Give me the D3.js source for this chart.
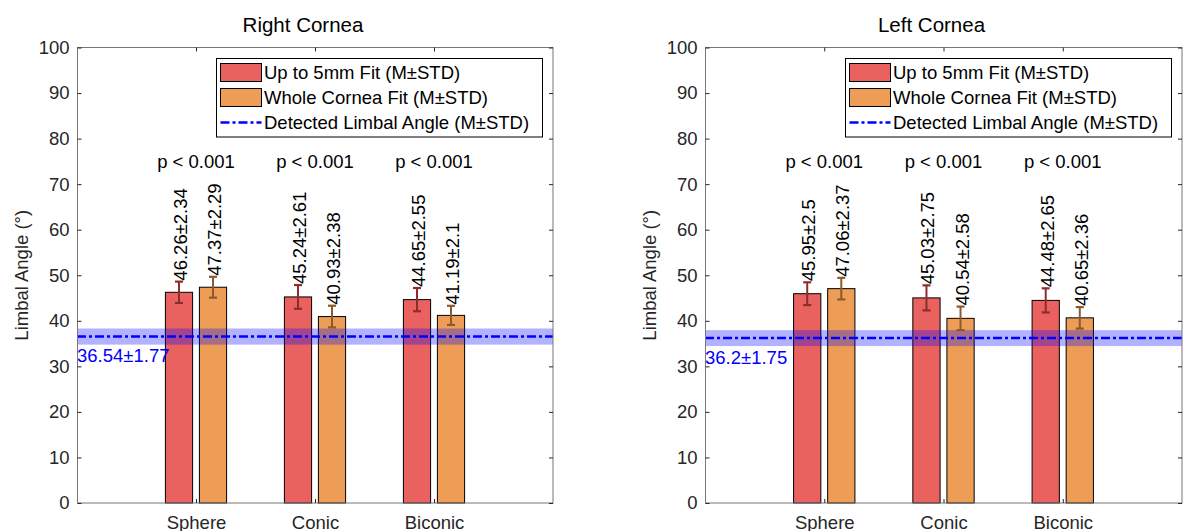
<!DOCTYPE html>
<html>
<head>
<meta charset="utf-8">
<script src="https://cdn.jsdelivr.net/npm/d3@7"></script>
<style>
  html, body { margin: 0; padding: 0; background: #fff; }
  svg { display: block; font-family: "Liberation Sans", Arial, Helvetica, sans-serif; }
</style>
</head>
<body>
<script>
// ---------------- data ----------------
const categories = ["Sphere", "Conic", "Biconic"];
const panelTitles = ["Right Cornea", "Left Cornea"];
const seriesNames = ["Up to 5mm Fit (M\u00b1STD)", "Whole Cornea Fit (M\u00b1STD)", "Detected Limbal Angle (M\u00b1STD)"];

// Right cornea
const rightUpTo5Mean = [46.26, 45.24, 44.65];
const rightUpTo5Std  = [2.34, 2.61, 2.55];
const rightWholeMean = [47.37, 40.93, 41.19];
const rightWholeStd  = [2.29, 2.38, 2.1];
// Left cornea
const leftUpTo5Mean = [45.95, 45.03, 44.48];
const leftUpTo5Std  = [2.5, 2.75, 2.65];
const leftWholeMean = [47.06, 40.54, 40.65];
const leftWholeStd  = [2.37, 2.58, 2.36];
// Detected limbal angle (right, left)
const limbalMean = [36.54, 36.2];
const limbalStd  = [1.77, 1.75];
// p-value labels per category
const pLabels = ["p < 0.001", "p < 0.001", "p < 0.001"];
const yTicks = [0, 10, 20, 30, 40, 50, 60, 70, 80, 90, 100];
const yLabel = "Limbal Angle (\u00b0)";

// ---------------- style ----------------
const W = 1186, H = 531;
const FS = 18.5;
const colUp5 = "rgb(233,98,96)";
const colWhole = "rgb(238,157,86)";
const errUp5 = "rgb(140,45,45)";
const errWhole = "rgb(140,90,45)";
const blue = "#0000ff";
const tickColor = "#262626";
const dash = "9,3,3,3";

const svg = d3.select("body").append("svg").attr("width", W).attr("height", H);
svg.append("rect").attr("width", W).attr("height", H).attr("fill", "#fff");

const panels = [
  { title: panelTitles[0], L: 77, R: 553, up5: rightUpTo5Mean, up5s: rightUpTo5Std, wh: rightWholeMean, whs: rightWholeStd, lm: limbalMean[0], ls: limbalStd[0] },
  { title: panelTitles[1], L: 705, R: 1182, up5: leftUpTo5Mean, up5s: leftUpTo5Std, wh: leftWholeMean, whs: leftWholeStd, lm: limbalMean[1], ls: limbalStd[1] }
];

const TOP = 47.5, BOT = 503;
const groupOffset = 0.142857, barW = 0.228571;

panels.forEach(p => {
  const x = d3.scaleLinear().domain([0, 4]).range([p.L, p.R]);
  const y = d3.scaleLinear().domain([0, 100]).range([BOT, TOP]);
  const g = svg.append("g");
  const bw = x(barW) - x(0);

  // bars
  const series = [
    { m: p.up5, s: p.up5s, off: -groupOffset, fill: colUp5, err: errUp5 },
    { m: p.wh, s: p.whs, off: groupOffset, fill: colWhole, err: errWhole }
  ];
  series.forEach(se => {
    se.m.forEach((v, i) => {
      const cx = x(i + 1 + se.off);
      g.append("rect")
        .attr("x", cx - bw / 2).attr("y", y(v))
        .attr("width", bw).attr("height", y(0) - y(v))
        .attr("fill", se.fill).attr("stroke", "#000").attr("stroke-width", 1);
    });
  });

  // limbal band + line
  g.append("rect")
    .attr("x", x(0)).attr("width", x(4) - x(0))
    .attr("y", y(p.lm + p.ls)).attr("height", y(p.lm - p.ls) - y(p.lm + p.ls))
    .attr("fill", blue).attr("fill-opacity", 0.3);
  g.append("line")
    .attr("x1", x(0)).attr("x2", x(4)).attr("y1", y(p.lm)).attr("y2", y(p.lm))
    .attr("stroke", blue).attr("stroke-width", 2.5).attr("stroke-dasharray", dash);
  g.append("text")
    .attr("x", x(0)).attr("y", y(p.lm - p.ls) + 17.5)
    .attr("fill", blue).attr("font-size", FS)
    .text(p.lm + "\u00b1" + p.ls);

  // error bars + rotated labels
  series.forEach(se => {
    se.m.forEach((v, i) => {
      const cx = x(i + 1 + se.off);
      const hi = y(v + se.s[i]), lo = y(v - se.s[i]);
      g.append("line").attr("x1", cx).attr("x2", cx).attr("y1", hi).attr("y2", lo)
        .attr("stroke", se.err).attr("stroke-width", 2);
      [hi, lo].forEach(yy => g.append("line").attr("x1", cx - 4).attr("x2", cx + 4)
        .attr("y1", yy).attr("y2", yy).attr("stroke", se.err).attr("stroke-width", 2.2));
      g.append("text")
        .attr("transform", `translate(${cx + 1.5},${hi - 1}) rotate(-90)`)
        .attr("text-anchor", "start").attr("dominant-baseline", "central")
        .attr("font-size", FS).attr("fill", "#000")
        .text(v + "\u00b1" + se.s[i]);
    });
  });

  // p-values
  pLabels.forEach((t, i) => {
    g.append("text").attr("x", x(i + 1)).attr("y", y(75))
      .attr("text-anchor", "middle").attr("dominant-baseline", "central")
      .attr("font-size", FS).attr("fill", "#000").text(t);
  });

  // axes box
  g.append("rect").attr("x", p.L + 0.5).attr("y", TOP).attr("width", p.R - p.L - 0.5).attr("height", BOT - TOP)
    .attr("fill", "none").attr("stroke", "#777").attr("stroke-width", 1);

  const styleAxis = sel => {
    sel.select(".domain").remove();
    sel.selectAll(".tick line").attr("stroke", tickColor);
    sel.selectAll("text").attr("fill", tickColor).attr("font-size", FS)
      .attr("font-family", "Liberation Sans, Arial, sans-serif");
  };
  g.append("g").attr("transform", `translate(${p.L + 0.5},0)`)
    .call(d3.axisLeft(y).tickValues(yTicks).tickSizeInner(-4).tickSizeOuter(0).tickPadding(8))
    .call(styleAxis);
  g.append("g").attr("transform", `translate(${p.R},0)`)
    .call(d3.axisRight(y).tickValues(yTicks).tickSizeInner(-4).tickSizeOuter(0).tickFormat(""))
    .call(styleAxis);
  g.append("g").attr("transform", `translate(0,${TOP})`)
    .call(d3.axisTop(x).tickValues([1, 2, 3]).tickSizeInner(-4).tickSizeOuter(0).tickFormat(""))
    .call(styleAxis);
  g.append("g").attr("transform", `translate(0,${BOT})`)
    .call(d3.axisBottom(x).tickValues([1, 2, 3]).tickSizeInner(-4).tickSizeOuter(0).tickPadding(13)
      .tickFormat((d, i) => categories[i]))
    .call(styleAxis);

  // y label
  g.append("text")
    .attr("transform", `translate(${p.L - 49},${(TOP + BOT) / 2}) rotate(-90)`)
    .attr("text-anchor", "middle").attr("font-size", FS).attr("fill", tickColor)
    .text(yLabel);

  // title
  g.append("text").attr("x", (p.L + p.R) / 2 - 12).attr("y", 32)
    .attr("text-anchor", "middle").attr("font-size", 20.5).attr("fill", "#000")
    .text(p.title);

  // legend
  const legW = 326, legR = p.R - 11, legL = legR - legW, legT = 58, legH = 78.5;
  const lg = g.append("g");
  lg.append("rect").attr("x", legL + 0.5).attr("y", legT + 0.5).attr("width", legW).attr("height", legH)
    .attr("fill", "#fff").attr("stroke", "#000").attr("stroke-width", 1);
  const rows = [72, 97, 122].map(v => v + 0.5);
  [colUp5, colWhole].forEach((c, k) => {
    lg.append("rect").attr("x", legL + 4.5).attr("y", rows[k] - 9).attr("width", 41).attr("height", 18)
      .attr("fill", c).attr("stroke", "#000").attr("stroke-width", 1);
  });
  lg.append("line").attr("x1", legL + 4.5).attr("x2", legL + 45.5).attr("y1", rows[2]).attr("y2", rows[2])
    .attr("stroke", blue).attr("stroke-width", 2.5).attr("stroke-dasharray", dash);
  seriesNames.forEach((t, k) => {
    lg.append("text").attr("x", legL + 48).attr("y", rows[k])
      .attr("dominant-baseline", "central").attr("font-size", FS).attr("fill", "#000").text(t);
  });
});
</script>
</body>
</html>
